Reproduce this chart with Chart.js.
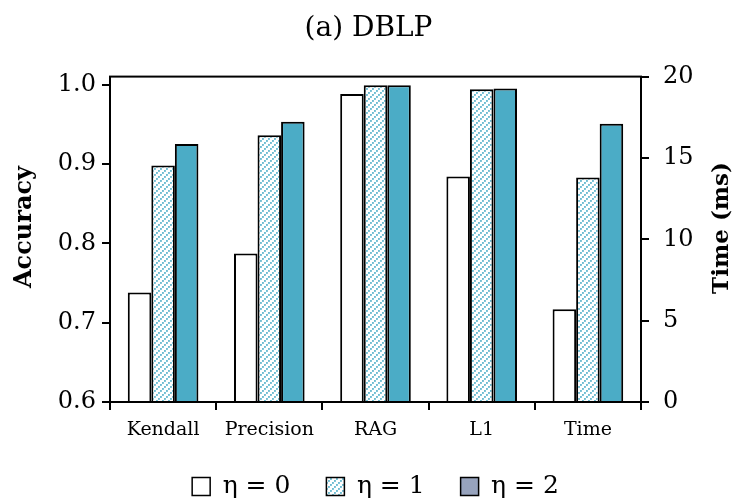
<!DOCTYPE html>
<html>
<head>
<meta charset="utf-8">
<script src="https://cdn.jsdelivr.net/npm/chart.js@4"></script>
<style>
  body { margin: 0; background: #fff; }
  #wrap { width: 737px; height: 502px; }
</style>
</head>
<body>
<div id="wrap"><canvas id="dblpChart"></canvas></div>
<script>
// data
const categories = ['Kendall', 'Precision', 'RAG', 'L1', 'Time'];
const seriesNames = ['η = 0', 'η = 1', 'η = 2'];
// accuracy for Kendall, Precision, RAG, L1 (left axis)
const accEta0 = [0.738, 0.787, 0.988, 0.884];
const accEta1 = [0.898, 0.936, 0.999, 0.994];
const accEta2 = [0.925, 0.953, 0.999, 0.995];
// time in ms for eta = 0, 1, 2 (right axis)
const timeMs = [5.7, 13.8, 17.1];
const accTicks = [0.6, 0.7, 0.8, 0.9, 1.0];
const timeTicks = [0, 5, 10, 15, 20];

const FONT = "'DejaVu Serif', serif";
const TEAL = '#4BACC6';

function makeHatch() {
    const c = document.createElement('canvas');
    c.width = 6; c.height = 6;
    const g = c.getContext('2d');
    g.fillStyle = '#fff';
    g.fillRect(0, 0, 6, 6);
    g.fillStyle = TEAL;
    [[4, 0], [2, 2], [0, 4]].forEach(([x, y]) => g.fillRect(x + 0.1, y + 0.1, 1.7, 1.7));
    return g.createPattern(c, 'repeat');
}

const fills = ['#ffffff', makeHatch(), TEAL];
const accData = [accEta0, accEta1, accEta2];

const datasets = [];
accData.forEach((acc, i) => {
    datasets.push({
        label: seriesNames[i],
        data: [...acc, null],
        yAxisID: 'y',
        backgroundColor: fills[i],
        borderColor: '#000',
        borderWidth: 2
    });
});
timeMs.forEach((t, i) => {
    datasets.push({
        label: seriesNames[i] + ' time',
        data: categories.map(c => c === 'Time' ? t : null),
        yAxisID: 'y2',
        backgroundColor: fills[i],
        borderColor: '#000',
        borderWidth: 2
    });
});

// frame around the plot + the two rotated axis titles
const framePlugin = {
    id: 'frame',
    afterDraw(chart) {
        const {ctx, chartArea: a} = chart;
        ctx.save();
        ctx.strokeStyle = '#000';
        ctx.lineWidth = 2;
        ctx.strokeRect(a.left, a.top, a.right - a.left, a.bottom - a.top);
        ctx.fillStyle = '#000';
        ctx.textAlign = 'center';
        ctx.textBaseline = 'middle';
        ctx.font = "bold 24px " + FONT;
        ctx.translate(25, 227);
        ctx.rotate(-Math.PI / 2);
        ctx.fillText('Accuracy', 0, 0);
        ctx.restore();
        ctx.save();
        ctx.fillStyle = '#000';
        ctx.textAlign = 'center';
        ctx.textBaseline = 'middle';
        ctx.font = "bold 23px " + FONT;
        ctx.translate(722, 228);
        ctx.rotate(-Math.PI / 2);
        ctx.fillText('Time (ms)', 0, 0);
        ctx.restore();
    }
};

const ctx = document.getElementById('dblpChart').getContext('2d');
new Chart(ctx, {
    type: 'bar',
    data: { labels: categories, datasets: datasets },
    options: {
        responsive: true,
        maintainAspectRatio: false,
        animation: false,
        skipNull: true,
        categoryPercentage: 0.665,
        barPercentage: 1.0,
        layout: { padding: { top: 0, left: 0, right: 0, bottom: -7 } },
        plugins: {
            title: {
                display: true,
                text: '(a) DBLP',
                color: '#000',
                font: { family: FONT, size: 28, weight: 'normal' },
                padding: { top: 12, bottom: 31 }
            },
            legend: {
                position: 'bottom',
                fullSize: false,
                labels: {
                    color: '#000',
                    font: { family: FONT, size: 25 },
                    boxWidth: 18,
                    boxHeight: 18,
                    padding: 36,
                    filter: item => item.datasetIndex < 3,
                    generateLabels(chart) {
                        const items = Chart.defaults.plugins.legend.labels.generateLabels(chart);
                        items.forEach(it => {
                            it.lineWidth = 1.5;
                            if (it.datasetIndex === 2) it.fillStyle = '#97A3BD';
                        });
                        return items;
                    }
                }
            },
            tooltip: { enabled: false }
        },
        scales: {
            x: {
                offset: true,
                grid: { offset: true, drawOnChartArea: false, color: '#000', lineWidth: 2, tickLength: 8 },
                border: { color: '#000', width: 2 },
                ticks: { color: '#000', font: { family: FONT, size: 19 }, padding: 9, maxRotation: 0 },
                afterFit(axis) { axis.height = 36; }
            },
            y: {
                position: 'left',
                min: 0.6,
                max: 1.01,
                afterBuildTicks(axis) { axis.ticks = accTicks.map(v => ({ value: v })); },
                grid: { drawOnChartArea: false, color: '#000', lineWidth: 2, tickLength: 8 },
                border: { color: '#000', width: 2 },
                ticks: {
                    color: '#000',
                    font: { family: FONT, size: 24 },
                    padding: 6,
                    callback: v => Number(v).toFixed(1)
                },
                afterFit(axis) { axis.width = 110; }
            },
            y2: {
                position: 'right',
                min: 0,
                max: 20,
                afterBuildTicks(axis) { axis.ticks = timeTicks.map(v => ({ value: v })); },
                grid: { drawOnChartArea: false, color: '#000', lineWidth: 2, tickLength: 8 },
                border: { color: '#000', width: 2 },
                ticks: { color: '#000', font: { family: FONT, size: 24 }, padding: 14 },
                afterFit(axis) { axis.width = 96; }
            }
        }
    },
    plugins: [framePlugin]
});
</script>
</body>
</html>
